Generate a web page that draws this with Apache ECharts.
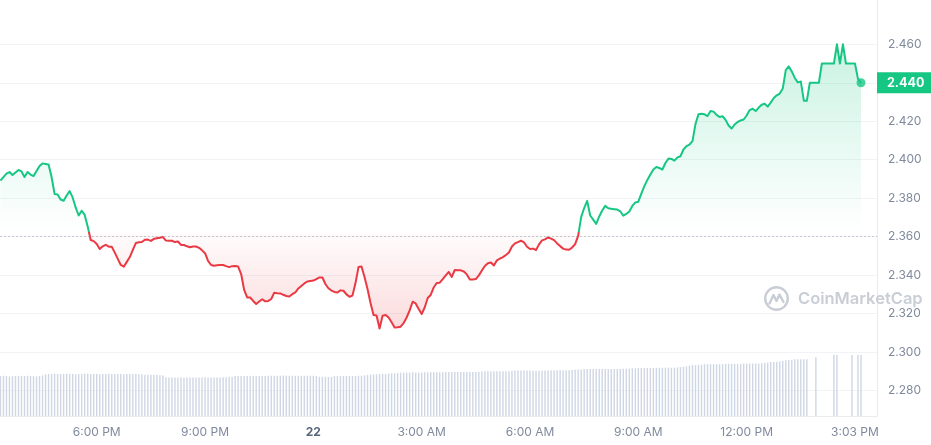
<!DOCTYPE html>
<html>
<head>
<meta charset="utf-8">
<script src="https://cdn.jsdelivr.net/npm/echarts@6/dist/echarts.min.js"></script>
<style>html,body{margin:0;padding:0;background:#fff}#c{width:931px;height:445px}</style>
</head>
<body>
<div id="c"></div>
<script>
// ---- data (5-minute steps, hours counted from 00:00 on the 21st) ----
const startHour = 15 + 20 / 60;   // 3:20 PM
const stepHours = 5 / 60;
const baseline = 2.3624;          // opening price (dotted line)
const lastPrice = 2.440;

const prices = [
  2.3892, 2.3910, 2.3928, 2.3936, 2.3921, 2.3934, 2.3947, 2.3939, 2.3910, 2.3936,
  2.3923, 2.3915, 2.3941, 2.3967, 2.3981, 2.3978, 2.3975, 2.3910, 2.3822, 2.3819,
  2.3793, 2.3787, 2.3814, 2.3837, 2.3804, 2.3752, 2.3710, 2.3735, 2.3713, 2.3653,
  2.3583, 2.3577, 2.3562, 2.3536, 2.3550, 2.3558, 2.3548, 2.3548, 2.3517, 2.3485,
  2.3453, 2.3444, 2.3469, 2.3494, 2.3531, 2.3567, 2.3571, 2.3572, 2.3584, 2.3585,
  2.3578, 2.3589, 2.3592, 2.3595, 2.3598, 2.3580, 2.3579, 2.3579, 2.3572, 2.3575,
  2.3557, 2.3557, 2.3550, 2.3545, 2.3549, 2.3549, 2.3542, 2.3529, 2.3514, 2.3474,
  2.3453, 2.3449, 2.3451, 2.3453, 2.3453, 2.3447, 2.3442, 2.3447, 2.3448, 2.3445,
  2.3406, 2.3323, 2.3284, 2.3284, 2.3266, 2.3250, 2.3263, 2.3275, 2.3264, 2.3266,
  2.3276, 2.3309, 2.3306, 2.3305, 2.3298, 2.3292, 2.3289, 2.3301, 2.3310, 2.3331,
  2.3344, 2.3357, 2.3367, 2.3370, 2.3372, 2.3380, 2.3388, 2.3388, 2.3354, 2.3332,
  2.3320, 2.3313, 2.3310, 2.3321, 2.3319, 2.3300, 2.3288, 2.3294, 2.3359, 2.3442,
  2.3445, 2.3391, 2.3328, 2.3255, 2.3193, 2.3190, 2.3123, 2.3189, 2.3193, 2.3180,
  2.3155, 2.3128, 2.3129, 2.3132, 2.3151, 2.3180, 2.3217, 2.3262, 2.3253, 2.3224,
  2.3198, 2.3232, 2.3281, 2.3297, 2.3336, 2.3359, 2.3361, 2.3379, 2.3399, 2.3417,
  2.3391, 2.3427, 2.3426, 2.3425, 2.3419, 2.3404, 2.3378, 2.3377, 2.3380, 2.3399,
  2.3424, 2.3448, 2.3462, 2.3466, 2.3450, 2.3477, 2.3486, 2.3494, 2.3505, 2.3518,
  2.3549, 2.3565, 2.3572, 2.3579, 2.3571, 2.3548, 2.3536, 2.3538, 2.3531, 2.3560,
  2.3581, 2.3586, 2.3596, 2.3590, 2.3582, 2.3565, 2.3551, 2.3538, 2.3533, 2.3532,
  2.3544, 2.3561, 2.3604, 2.3702, 2.3749, 2.3786, 2.3710, 2.3689, 2.3666, 2.3705,
  2.3736, 2.3760, 2.3748, 2.3745, 2.3743, 2.3741, 2.3732, 2.3709, 2.3718, 2.3731,
  2.3760, 2.3778, 2.3782, 2.3824, 2.3863, 2.3895, 2.3923, 2.3949, 2.3962, 2.3957,
  2.3949, 2.3983, 2.4006, 2.4004, 2.3995, 2.4012, 2.4018, 2.4053, 2.4071, 2.4079,
  2.4097, 2.4186, 2.4237, 2.4239, 2.4236, 2.4227, 2.4253, 2.4250, 2.4233, 2.4222,
  2.4226, 2.4207, 2.4178, 2.4162, 2.4183, 2.4196, 2.4204, 2.4209, 2.4230, 2.4258,
  2.4265, 2.4253, 2.4271, 2.4286, 2.4291, 2.4276, 2.4297, 2.4321, 2.4335, 2.4344,
  2.4370, 2.4466, 2.4485, 2.4459, 2.4425, 2.4402, 2.4407, 2.4307, 2.4306, 2.4400,
  2.4400, 2.4400, 2.4400, 2.4500, 2.4500, 2.4500, 2.4500, 2.4500, 2.4600, 2.4500,
  2.4600, 2.4500, 2.4500, 2.4500, 2.4500, 2.4420, 2.4400
];

const volumes = [
  57, 57.5, 57, 56.5, 57, 57, 57.5, 57, 57, 57.5,
  57, 57, 56.5, 57, 58, 59.5, 60, 60, 60.5, 60,
  60, 60, 60.5, 60, 60, 59.5, 60, 60, 60.5, 60.5,
  60, 60, 60, 59.5, 60, 60, 60.5, 60, 60, 60,
  60, 59.5, 60, 60, 60, 60, 59.5, 59.5, 59, 59,
  59, 59, 59, 58.5, 58, 55.5, 55, 55, 55, 55,
  55, 54.5, 55, 55, 55, 55, 55, 55, 55.5, 55,
  55, 55, 55, 55, 55.5, 55.5, 56, 56, 57, 57,
  57, 57, 57, 57, 57.5, 57, 57, 57, 57, 57.5,
  57.5, 57.5, 57.5, 57.5, 58, 57.5, 57.5, 57.5, 57.5, 57.5,
  57.5, 57.5, 57.5, 57.5, 57.5, 57, 56, 56, 56, 55.5,
  56, 57, 57, 57, 57, 57, 57, 57, 57, 57.5,
  57.5, 58, 58.5, 59, 59.5, 59.5, 60, 60, 60, 60.5,
  61, 61, 61.5, 62, 62, 62, 62, 62.5, 62, 62,
  62, 62.5, 62.5, 62.5, 62.5, 62.5, 62.5, 62.5, 63, 63,
  63, 63, 63, 63, 63, 63, 63, 63, 63, 63,
  63.5, 64, 64, 64, 64, 64, 64, 64, 64, 64,
  64.5, 65, 65, 65, 65, 65, 65, 64.5, 64.5, 64.5,
  65, 65, 65, 65.5, 65.5, 65.5, 65.5, 65.5, 65.5, 65.5,
  66, 66, 66.5, 66.5, 67, 67, 67, 67, 67, 67,
  67, 67, 67, 67, 67, 67, 67, 67.5, 67.5, 67.5,
  68, 68, 68.5, 68.5, 68.5, 68.5, 68.5, 68.5, 68.5, 69,
  69, 69, 69, 69, 69, 69.5, 70, 70.5, 71, 72,
  72.5, 72.5, 73, 73.5, 74, 74, 74, 74, 74, 74,
  74, 74.5, 74.5, 74.5, 74.5, 74.5, 74.5, 75, 75, 75,
  75, 75, 75, 75.5, 76, 76.5, 77, 77, 77.5, 78,
  79, 79.5, 80, 80.5, 81, 81, 81, 81, 81, null,
  null, 84, null, null, null, null, null, 87, 87, null,
  null, null, null, 87, null, 87, 87
];

const xTickHours  = [18, 21, 24, 27, 30, 33, 36, 39];
const xTickLabels = ['6:00 PM', '9:00 PM', '22', '3:00 AM', '6:00 AM', '9:00 AM', '12:00 PM', '3:03 PM'];
const dayLabel = '22';
const yMin = 2.26, yMax = 2.48, yStep = 0.02;

// ---- chart ----
const GREEN = '#16c784', RED = '#ea3943';
const times = prices.map((_, i) => startHour + i * stepHours);
const linePts = prices.map((v, i) => [times[i], v]);
const upPts = prices.map((v, i) => [times[i], Math.max(v, baseline)]);
const dnPts = prices.map((v, i) => [times[i], Math.min(v, baseline)]);
const volPts = volumes.map((v, i) => [times[i], v]);

const X_MIN = 15, X_MAX = 39.61;
const gL = -11.6, gR = 54;
const font = 'Inter';
const H = 445;

const chart = echarts.init(document.getElementById('c'), null, {renderer: 'canvas'});
const option = {
  animation: false,
  backgroundColor: '#ffffff',
  grid: [
    {left: gL, right: gR, top: 5.8, bottom: 15.9, containLabel: false, outerBoundsMode: 'none'},
    {left: gL, right: gR, top: 346, bottom: 29, containLabel: false, outerBoundsMode: 'none'},
    {left: gL, right: gR, top: 0, bottom: 29, containLabel: false, outerBoundsMode: 'none'}
  ],
  xAxis: [
    {gridIndex: 0, type: 'value', min: X_MIN, max: X_MAX, show: false},
    {gridIndex: 1, type: 'value', min: X_MIN, max: X_MAX, interval: 3,
      axisLine: {show: true, lineStyle: {color: '#e9ebef', width: 1}},
      axisTick: {show: false}, splitLine: {show: false},
      axisLabel: {
        margin: 10, color: '#808a9d', fontFamily: font, fontSize: 12,
        formatter: v => {
          const k = xTickHours.findIndex(h => Math.abs(h - v) < 1e-6);
          if (k < 0) return '';
          const t = xTickLabels[k];
          return t === dayLabel ? '{d|' + t + '}' : t;
        },
        rich: {d: {fontWeight: 'bold', color: '#58667e', fontFamily: font, fontSize: 12}}
      }
    },
    {gridIndex: 2, type: 'value', min: X_MIN, max: X_MAX, show: false}
  ],
  yAxis: [
    {gridIndex: 0, type: 'value', position: 'right', min: yMin, max: yMax, interval: yStep,
      axisLine: {show: false}, axisTick: {show: false},
      splitLine: {show: true, showMinLine: false, showMaxLine: false, lineStyle: {color: '#f1f3f6', width: 1}},
      axisLabel: {showMinLabel: false, showMaxLabel: false, formatter: v => v.toFixed(3),
        color: '#808a9d', fontFamily: font, fontSize: 12, margin: 11}
    },
    {gridIndex: 1, type: 'value', min: 0, max: 100, show: false},
    {gridIndex: 2, type: 'value', position: 'right', min: 0, max: 1,
      axisLine: {show: true, lineStyle: {color: '#e9ebef', width: 1}},
      axisTick: {show: false}, axisLabel: {show: false}, splitLine: {show: false}}
  ],
  graphic: [
    {type: 'group', x: 764, y: 286, z: 1, children: [
      {type: 'circle', shape: {cx: 12.5, cy: 12.5, r: 11.3}, style: {fill: 'none', stroke: '#c9cdd5', lineWidth: 2.4}},
      {type: 'polyline', shape: {points: [[5.5, 17.5], [9.5, 9], [12.5, 15], [15.5, 8.5], [19.5, 16]]},
        style: {fill: 'none', stroke: '#c9cdd5', lineWidth: 2.4, lineJoin: 'round', lineCap: 'round'}}
    ]},
    {type: 'text', x: 798, y: 299, z: 1, style: {text: 'CoinMarketCap', fill: '#c9cdd5',
      font: '600 16.5px Inter', verticalAlign: 'middle', align: 'left'}}
  ],
  series: [
    {type: 'bar', xAxisIndex: 1, yAxisIndex: 1, data: volPts, barWidth: 1.4, silent: true,
      itemStyle: {color: '#cfd6e4'}},
    {type: 'line', xAxisIndex: 0, yAxisIndex: 0, data: upPts, symbol: 'none', silent: true,
      lineStyle: {width: 0, opacity: 0},
      areaStyle: {origin: baseline, color: {type: 'linear', x: 0, y: 0, x2: 0, y2: 1,
        colorStops: [{offset: 0, color: 'rgba(22,199,132,0.32)'}, {offset: 1, color: 'rgba(22,199,132,0.0)'}]}}},
    {type: 'line', xAxisIndex: 0, yAxisIndex: 0, data: dnPts, symbol: 'none', silent: true,
      lineStyle: {width: 0, opacity: 0},
      areaStyle: {origin: baseline, color: {type: 'linear', x: 0, y: 0, x2: 0, y2: 1,
        colorStops: [{offset: 0, color: 'rgba(234,57,67,0.02)'}, {offset: 1, color: 'rgba(234,57,67,0.26)'}]}}},
    {type: 'line', xAxisIndex: 0, yAxisIndex: 0, data: linePts, symbol: 'none', silent: true, z: 4,
      lineStyle: {width: 2, join: 'round', color: GREEN},
      markLine: {
        silent: true, symbol: ['none', 'none'], animation: false, z: 10,
        data: [
          {yAxis: baseline, lineStyle: {type: [1, 3], color: '#9aa1ad', width: 1}, label: {show: false}},
          {yAxis: lastPrice, lineStyle: {color: 'rgba(0,0,0,0)', width: 1, type: 'solid'},
            label: {show: true, position: 'end', distance: 0, formatter: lastPrice.toFixed(3),
              backgroundColor: GREEN, color: '#ffffff', fontWeight: 'bold', fontFamily: font,
              fontSize: 12.5, lineHeight: 16, padding: [3, 10, 2, 10]}}
        ]
      }},
    {type: 'scatter', xAxisIndex: 0, yAxisIndex: 0, z: 5, silent: true,
      data: [[times[times.length - 1], prices[prices.length - 1]]],
      symbolSize: 9, itemStyle: {color: GREEN}}
  ]
};
chart.setOption(option);

// colour the price line green above / red below the opening price
const baseY = chart.convertToPixel({gridIndex: 0}, [X_MIN, baseline])[1];
const p = Math.min(Math.max(baseY / H, 0), 1);
chart.setOption({
  series: [{}, {}, {}, {
    lineStyle: {width: 2, join: 'round', color: {
      type: 'linear', global: true, x: 0, y: 0, x2: 0, y2: H,
      colorStops: [
        {offset: 0, color: GREEN}, {offset: p, color: GREEN},
        {offset: p, color: RED}, {offset: 1, color: RED}
      ]
    }}
  }, {}]
});
</script>
</body>
</html>
